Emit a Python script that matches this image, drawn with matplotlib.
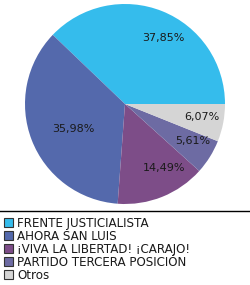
import matplotlib
matplotlib.use("Agg")
import matplotlib.pyplot as plt
from matplotlib.lines import Line2D
from matplotlib.patches import Rectangle
import numpy as np

labels = ["FRENTE JUSTICIALISTA", "AHORA SAN LUIS", "¡VIVA LA LIBERTAD! ¡CARAJO!",
          "PARTIDO TERCERA POSICIÓN", "Otros"]
values = [37.85, 35.98, 14.49, 5.61, 6.07]
pct_text = ["37,85%", "35,98%", "14,49%", "5,61%", "6,07%"]
colors = ["#35BCEC", "#5469AC", "#7D4D88", "#6D6BA3", "#D5D5D5"]
# label placement (radius fraction, angular offset from slice middle, degrees)
label_radius = [0.765, 0.575, 0.754, 0.772, 0.781]
label_dang = [-8.5, 4.2, 9.4, 3.6, 1.3]

W, H = 250, 285
fig = plt.figure(figsize=(W / 100, H / 100), dpi=100)
fig.patch.set_facecolor("white")

ax = fig.add_axes([25 / W, (H - 204) / H, 200 / W, 200 / H])
wedges, _ = ax.pie(values, colors=colors, startangle=0, counterclock=True,
                   radius=1.0, wedgeprops=dict(linewidth=0))
ax.set_xlim(-1, 1)
ax.set_ylim(-1, 1)
ax.set_aspect("equal")
ax.axis("off")

for w, t, r, da in zip(wedges, pct_text, label_radius, label_dang):
    ang = np.deg2rad((w.theta1 + w.theta2) / 2 + da)
    ax.text(r * np.cos(ang), r * np.sin(ang), t, ha="center", va="center",
            fontsize=8, color="#1a1a1a", family="DejaVu Sans")

fig.add_artist(Line2D([0, 1], [(H - 210.5) / H] * 2, color="black", linewidth=1))

for i, (c, lab) in enumerate(zip(colors, labels)):
    yc = 222 + 13 * i
    fig.add_artist(Rectangle((3.5 / W, (H - yc - 4.5) / H), 9 / W, 9 / H,
                             facecolor=c, edgecolor="#333333", linewidth=0.8,
                             transform=fig.transFigure))
    fig.text(17 / W, (H - yc) / H, lab, ha="left", va="center_baseline",
             fontsize=8.6, color="#1a1a1a", family="DejaVu Sans")

fig.savefig("out.png", dpi=100)
